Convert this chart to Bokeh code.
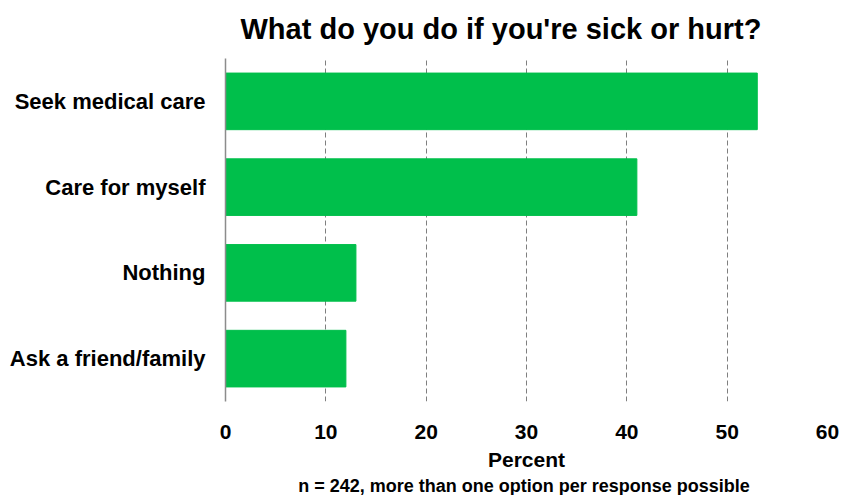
from bokeh.plotting import figure
from bokeh.models import FactorRange, Range1d, FixedTicker, Title
from bokeh.embed import file_html
from bokeh.resources import INLINE

# Survey responses (percent of respondents)
responses = ["Seek medical care", "Care for myself", "Nothing", "Ask a friend/family"]
percents = [53, 41, 13, 12]
x_ticks = [0, 10, 20, 30, 40, 50, 60]

FONT = "Liberation Sans"
GREEN = "#00BF4B"

p = figure(
    width=841, height=495,
    y_range=FactorRange(factors=responses[::-1]),
    x_range=Range1d(0, 60),
    output_backend="svg", toolbar_location=None,
    min_border_left=225, min_border_right=14, min_border_top=57, min_border_bottom=91,
)

p.hbar(y=responses, right=percents, left=0, height=0.66,
       fill_color=GREEN, line_color=GREEN)

# Title
p.title.text = "What do you do if you're sick or hurt?"
p.title.align = "left"
p.title.vertical_align = "top"
p.title.text_font = FONT
p.title.text_font_size = "29px"
p.title.text_font_style = "bold"
p.title.text_color = "#000000"
p.title.offset = 15
p.title.standoff = 24

# Footnote below the x axis
p.add_layout(Title(text="n = 242, more than one option per response  possible",
                   align="center", text_font=FONT, text_font_size="18px",
                   text_font_style="bold", text_color="#000000",
                   standoff=0), "below")

# X axis
p.xaxis.ticker = FixedTicker(ticks=x_ticks)
p.xaxis.axis_label = "Percent"
p.xaxis.axis_label_text_font = FONT
p.xaxis.axis_label_text_font_size = "21px"
p.xaxis.axis_label_text_font_style = "bold"
p.xaxis.axis_label_text_color = "#000000"
p.xaxis.axis_label_standoff = 6
p.xaxis.major_label_text_font = FONT
p.xaxis.major_label_text_font_size = "21px"
p.xaxis.major_label_text_font_style = "bold"
p.xaxis.major_label_text_color = "#000000"
p.xaxis.major_label_standoff = 17
p.xaxis.axis_line_color = None
p.xaxis.major_tick_line_color = None
p.xaxis.minor_tick_line_color = None

# Y axis
p.yaxis.major_label_text_font = FONT
p.yaxis.major_label_text_font_size = "22px"
p.yaxis.major_label_text_font_style = "bold"
p.yaxis.major_label_text_color = "#000000"
p.yaxis.major_label_standoff = 14
p.yaxis.axis_line_color = "#8C8C8C"
p.yaxis.axis_line_width = 1.5
p.yaxis.major_tick_line_color = None
p.yaxis.minor_tick_line_color = None

# Grid
p.ygrid.grid_line_color = None
p.xgrid.ticker = FixedTicker(ticks=x_ticks[1:])
p.xgrid.grid_line_color = "#7F7F7F"
p.xgrid.grid_line_dash = "5 3"
p.xgrid.grid_line_width = 1

p.outline_line_color = None
p.background_fill_color = "white"
p.border_fill_color = "white"

open("out.html", "w").write(file_html(p, INLINE))
